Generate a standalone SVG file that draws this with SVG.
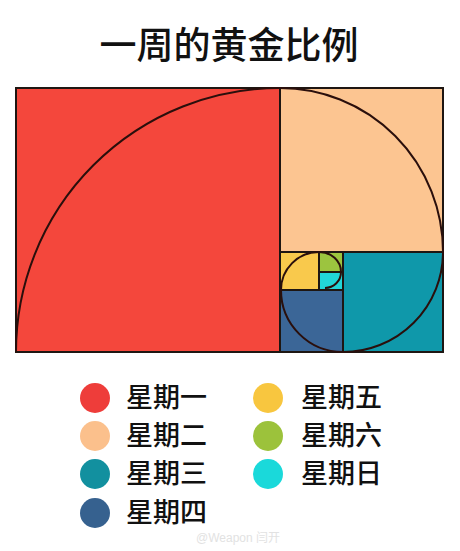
<svg xmlns="http://www.w3.org/2000/svg" width="460" height="551" viewBox="0 0 460 551">
<style>
.sq{stroke:#1e1612;stroke-width:2}
.sp{fill:none;stroke:#2a0f0c;stroke-width:2}
.t{font-family:"Noto Sans CJK SC","Noto Sans",sans-serif;fill:#111}
.lg{font-size:27px;font-weight:500}
</style>
<rect width="460" height="551" fill="#ffffff"/>
<text class="t" x="229" y="59" text-anchor="middle" font-size="37" font-weight="500">一周的黄金比例</text>
<g id="mon"><rect class="sq" x="16" y="88" width="264" height="264" fill="#f4473c"/></g>
<g id="tue"><rect class="sq" x="280" y="88" width="163" height="164" fill="#fcc591"/></g>
<g id="wed"><rect class="sq" x="343" y="252" width="100" height="100" fill="#0f98aa"/></g>
<g id="thu"><rect class="sq" x="280" y="290" width="63" height="62" fill="#3b6697"/></g>
<g id="fri"><rect class="sq" x="280" y="252" width="39" height="38" fill="#f9c94c"/></g>
<g id="sat"><rect class="sq" x="319" y="252" width="24" height="20" fill="#9cc43f"/></g>
<g id="sun"><rect class="sq" x="319" y="272" width="24" height="18" fill="#22d6d8"/></g>
<g id="spiral">
<path class="sp" d="M16,352 A264,264 0 0 1 280,88 A163,164 0 0 1 443,252 A100,100 0 0 1 343,352 A62,62 0 0 1 281,290 A38,38 0 0 1 319,252 A22,20 0 0 1 341,272 A16,16 0 0 1 325,288"/>
</g>
<g id="legend">
<circle cx="95" cy="398" r="15" fill="#ee3d3a"/>
<circle cx="95" cy="436" r="15" fill="#fbc08c"/>
<circle cx="95" cy="474" r="15" fill="#12909f"/>
<circle cx="95" cy="513" r="15" fill="#36618f"/>
<circle cx="268" cy="398" r="15" fill="#f8c63f"/>
<circle cx="268" cy="436" r="15" fill="#9cc23b"/>
<circle cx="268" cy="474" r="15" fill="#1ad9da"/>
<text class="t lg" x="126" y="407">星期一</text>
<text class="t lg" x="126" y="445">星期二</text>
<text class="t lg" x="126" y="483">星期三</text>
<text class="t lg" x="126" y="522">星期四</text>
<text class="t lg" x="301" y="407">星期五</text>
<text class="t lg" x="301" y="445">星期六</text>
<text class="t lg" x="301" y="483">星期日</text>
</g>
<text x="196" y="542" font-family="Liberation Sans,Noto Sans CJK SC,sans-serif" font-size="12" fill="#e2e2e2">@Weapon 闫开</text>
</svg>
